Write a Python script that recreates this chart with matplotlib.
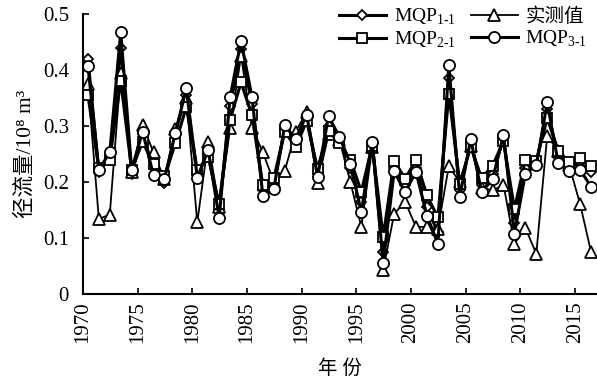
import numpy as np
import matplotlib
matplotlib.use("Agg")
import matplotlib.pyplot as plt

years = np.arange(1970, 2017)
mqp11 = [0.420, 0.218, 0.245, 0.440, 0.215, 0.285, 0.225, 0.198, 0.290, 0.355,
         0.215, 0.250, 0.150, 0.335, 0.437, 0.340, 0.185, 0.195, 0.295, 0.272,
         0.320, 0.215, 0.300, 0.278, 0.225, 0.165, 0.270, 0.075, 0.225, 0.195,
         0.225, 0.155, 0.110, 0.385, 0.185, 0.270, 0.195, 0.215, 0.278, 0.127,
         0.225, 0.232, 0.330, 0.245, 0.225, 0.235, 0.218]
measured = [0.375, 0.134, 0.142, 0.395, 0.218, 0.302, 0.253, 0.205, 0.295, 0.350,
            0.128, 0.272, 0.155, 0.296, 0.425, 0.297, 0.253, 0.200, 0.220, 0.290,
            0.325, 0.198, 0.285, 0.275, 0.200, 0.120, 0.262, 0.043, 0.143, 0.165,
            0.120, 0.120, 0.117, 0.228, 0.200, 0.265, 0.190, 0.185, 0.195, 0.090,
            0.118, 0.072, 0.283, 0.255, 0.230, 0.161, 0.076]
mqp21 = [0.355, 0.225, 0.240, 0.381, 0.222, 0.272, 0.232, 0.210, 0.269, 0.334,
         0.221, 0.245, 0.161, 0.311, 0.378, 0.319, 0.194, 0.207, 0.290, 0.262,
         0.309, 0.224, 0.292, 0.269, 0.240, 0.183, 0.265, 0.102, 0.238, 0.206,
         0.239, 0.176, 0.137, 0.357, 0.197, 0.263, 0.207, 0.229, 0.273, 0.152,
         0.239, 0.238, 0.314, 0.256, 0.236, 0.243, 0.229]
mqp31 = [0.408, 0.222, 0.253, 0.468, 0.222, 0.290, 0.212, 0.206, 0.288, 0.367,
         0.208, 0.257, 0.136, 0.351, 0.452, 0.352, 0.175, 0.188, 0.301, 0.277,
         0.320, 0.209, 0.317, 0.281, 0.233, 0.146, 0.272, 0.055, 0.219, 0.182,
         0.218, 0.140, 0.090, 0.409, 0.173, 0.277, 0.182, 0.205, 0.284, 0.108,
         0.215, 0.230, 0.342, 0.234, 0.219, 0.222, 0.192]

xticks = [1970, 1975, 1980, 1985, 1990, 1995, 2000, 2005, 2010, 2015]
yticks = [0, 0.1, 0.2, 0.3, 0.4, 0.5]
ytick_labels = ["0", "0.1", "0.2", "0.3", "0.4", "0.5"]

plt.rcParams['font.family'] = ['Liberation Serif', 'Noto Sans CJK SC', 'DejaVu Sans']
plt.rcParams['mathtext.fontset'] = 'custom'
plt.rcParams['mathtext.rm'] = 'Liberation Serif'

fig = plt.figure(figsize=(5.97, 3.88), dpi=100)
ax = fig.add_axes([0.139, 0.242, 0.861, 0.722])

x = years + 0.45
mk = dict(markerfacecolor='white', markeredgecolor='black', markeredgewidth=1.3, color='black')
ax.plot(x, mqp11, marker='D', markersize=5.5, lw=2.2, label=r'MQP$_{\mathregular{1\text{-}1}}$', **mk)
ax.plot(x, measured, marker='^', markersize=8, lw=1.3, label='实测值', **mk)
ax.plot(x, mqp21, marker='s', markersize=7.5, lw=2.2, label=r'MQP$_{\mathregular{2\text{-}1}}$', **mk)
ax.plot(x, mqp31, marker='o', markersize=8, lw=2.2, label=r'MQP$_{\mathregular{3\text{-}1}}$', **mk)

ax.set_xlim(1970, 2017)
ax.set_ylim(0, 0.5)
ax.set_xticks(xticks)
ax.set_xticklabels([str(t) for t in xticks], rotation=90, fontsize=15)
ax.set_yticks(yticks)
ax.set_yticklabels(ytick_labels, fontsize=15)
ax.tick_params(direction='in', length=4, width=1.2)
ax.tick_params(axis='y', pad=10)
ax.tick_params(axis='x', pad=5)
for s in ['top', 'right']:
    ax.spines[s].set_visible(False)
for s in ['left', 'bottom']:
    ax.spines[s].set_linewidth(1.5)

ax.set_ylabel('径流量/10⁸ m³', fontsize=15.5, labelpad=5)
ax.set_xlabel('年 份', fontsize=14, labelpad=12)

h, l = ax.get_legend_handles_labels()
order = [0, 2, 1, 3]
leg = ax.legend([h[i] for i in order], [l[i] for i in order], ncol=2, frameon=False,
                loc='upper right', bbox_to_anchor=(1.0, 1.06), fontsize=14,
                handlelength=2.4, columnspacing=0.8, labelspacing=0.15, handletextpad=0.4,
                borderaxespad=0.1)

fig.savefig('out.png', dpi=100)
